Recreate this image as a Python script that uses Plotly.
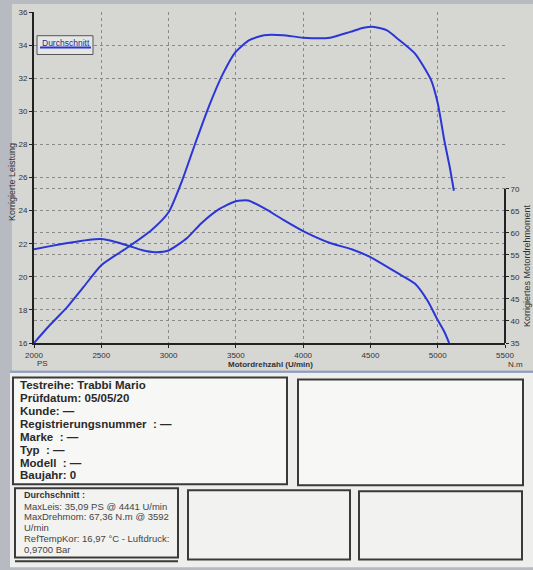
import plotly.graph_objects as go

# data
rpm_power = [2000, 2120, 2250, 2370, 2500, 2700, 2870, 3000, 3100, 3200, 3300, 3400, 3500,
             3600, 3710, 3850, 4000, 4200, 4350, 4450, 4530, 4620, 4700, 4830, 4950,
             5000, 5050, 5090, 5120]
power_ps = [16.0, 17.1, 18.2, 19.4, 20.7, 21.8, 22.8, 23.9, 25.8, 28.1, 30.3, 32.2, 33.6,
            34.3, 34.6, 34.6, 34.45, 34.45, 34.8, 35.05, 35.1, 34.9, 34.4, 33.5, 31.9,
            30.5, 28.2, 26.6, 25.2]

rpm_torque = [2000, 2120, 2250, 2400, 2500, 2600, 2700, 2800, 2900, 3000, 3140, 3240, 3370,
              3500, 3590, 3710, 3850, 4000, 4200, 4360, 4500, 4700, 4830, 4925, 5000,
              5050, 5085]
torque_nm = [56.3, 57.0, 57.7, 58.4, 58.6, 58.0, 57.1, 56.1, 55.6, 56.0, 58.9, 62.1, 65.3,
             67.2, 67.36, 65.6, 63.0, 60.4, 57.7, 56.3, 54.5, 50.9, 48.5, 44.6, 40.2,
             37.5, 35.0]

x_ticks = [2000, 2500, 3000, 3500, 4000, 4500, 5000, 5500]
ps_ticks = [16, 18, 20, 22, 24, 26, 28, 30, 32, 34, 36]
nm_ticks = [35, 40, 45, 50, 55, 60, 65, 70]

info_lines = ["Testreihe: Trabbi Mario", "Prüfdatum: 05/05/20", "Kunde: —",
              "Registrierungsnummer  : —", "Marke  : —", "Typ  : —", "Modell  : —",
              "Baujahr: 0"]
summary_lines = ["MaxLeis: 35,09 PS @ 4441 U/min", "MaxDrehmom: 67,36 N.m @ 3592",
                 "U/min", "RefTempKor: 16,97 °C - Luftdruck:", "0,9700 Bar"]

W, H = 533, 570
L, R, T, B = 34, 505, 8, 343
BLUE = "#2a36d6"
FONT = "Liberation Sans, Arial, sans-serif"


def px(x):
    return (x - L) / (R - L)


def py(y):
    return (B - y) / (B - T)


def rect(x0, y0, x1, y1, fill, line=None, lw=0, layer="below"):
    return dict(type="rect", xref="paper", yref="paper", x0=px(x0), x1=px(x1),
                y0=py(y1), y1=py(y0), fillcolor=fill, layer=layer,
                line=dict(color=line or fill, width=lw))


fig = go.Figure()

fig.add_trace(go.Scatter(x=rpm_power, y=power_ps, mode="lines", name="Durchschnitt",
                         line=dict(color=BLUE, width=2, shape="spline", smoothing=0.6)))
fig.add_trace(go.Scatter(x=rpm_torque, y=torque_nm, mode="lines", name="Durchschnitt",
                         yaxis="y2",
                         line=dict(color=BLUE, width=2, shape="spline", smoothing=0.6)))

y2_top = 35 + (70 - 35) * (B - T) / (B - 187)

shapes = [
    rect(12, 0, 533, 371, "#d6d6d3"),
    rect(10, 373, 533, 570, "#eeeeec"),
    dict(type="line", xref="paper", yref="paper", x0=px(10), x1=px(533), y0=py(372), y1=py(372),
         line=dict(color="#8e9bc4", width=2)),
    rect(13, 378, 287, 486, "#f7f7f5", "#3a3a3a", 2),
    rect(298, 380, 523, 487, "#f7f7f5", "#3a3a3a", 2),
    rect(15, 490, 178, 560, "#f2f2f0", "#3a3a3a", 2),
    rect(188, 492, 350, 562, "#f2f2f0", "#3a3a3a", 2),
    rect(359, 493, 522, 562, "#f2f2f0", "#3a3a3a", 2),
    dict(type="line", xref="paper", yref="paper", x0=px(15), x1=px(178), y0=py(564), y1=py(564),
         line=dict(color="#3a3a3a", width=2)),
    # right torque axis line
    dict(type="line", xref="paper", yref="y2", x0=1, x1=1, y0=35, y1=70,
         line=dict(color="#222", width=2), layer="above"),
    # legend box
    rect(37, 32, 93, 51, "#e6e6e4", "#555", 1, layer="above"),
    dict(type="line", xref="paper", yref="paper", x0=px(40), x1=px(91), y0=py(44), y1=py(44),
         line=dict(color=BLUE, width=2), layer="above"),
]

ann = [
    dict(x=px(40), y=py(39), text="Durchschnitt", font=dict(size=8.5, color="#1c2a8c")),
    dict(x=px(12), y=py(180), text="Korrigierte Leistung", textangle=-90, xanchor="center",
         font=dict(size=9, color="#333")),
    dict(x=px(527), y=py(265), text="Korrigiertes Motordrehmoment", textangle=-90,
         xanchor="center", font=dict(size=9, color="#333")),
    dict(x=px(270), y=py(365), text="<b>Motordrehzahl (U/min)</b>", xanchor="center",
         font=dict(size=8, color="#333")),
    dict(x=px(35), y=py(364), text="PS", font=dict(size=8, color="#333")),
    dict(x=px(506), y=py(365), text="N.m", font=dict(size=8, color="#333")),
    dict(x=px(22), y=py(497), text="<b>Durchschnitt :</b>", font=dict(size=9, color="#333")),
]
for i, t in enumerate(info_lines):
    ann.append(dict(x=px(18), y=py(386 + 13 * i), text="<b>" + t + "</b>",
                    font=dict(size=11.5, color="#2a2a2a")))
for i, t in enumerate(summary_lines):
    ann.append(dict(x=px(22), y=py(508 + 11 * i), text=t, font=dict(size=9.5, color="#444")))
for a in ann:
    a.setdefault("xanchor", "left")
    a.update(xref="paper", yref="paper", yanchor="middle", showarrow=False)

grid = dict(showgrid=True, gridcolor="#8a8a8a", gridwidth=1, griddash="3px,3px",
            zeroline=False, ticks="outside", tickcolor="#222",
            tickfont=dict(size=8, color="#333", family=FONT))

fig.update_layout(
    width=W, height=H,
    margin=dict(l=L, r=W - R, t=T, b=H - B),
    paper_bgcolor="#b8bac1",
    plot_bgcolor="rgba(0,0,0,0)",
    font=dict(family=FONT),
    showlegend=False,
    xaxis=dict(range=[2000, 5500], tickvals=x_ticks, showline=True, linecolor="#222",
               linewidth=2, ticklen=3, **grid),
    yaxis=dict(range=[16, 36], tickvals=ps_ticks, showline=True, linecolor="#222",
               linewidth=2, ticklen=3, **grid),
    yaxis2=dict(range=[35, y2_top], tickvals=nm_ticks, overlaying="y", side="right",
                showline=False, ticklen=3, **grid),
    shapes=shapes,
    annotations=ann,
)

# drop the browser's default body margin so the page is not scrolled
fig.write_html("out.html", config={"displayModeBar": False},
               post_script="document.body.style.margin='0';")
